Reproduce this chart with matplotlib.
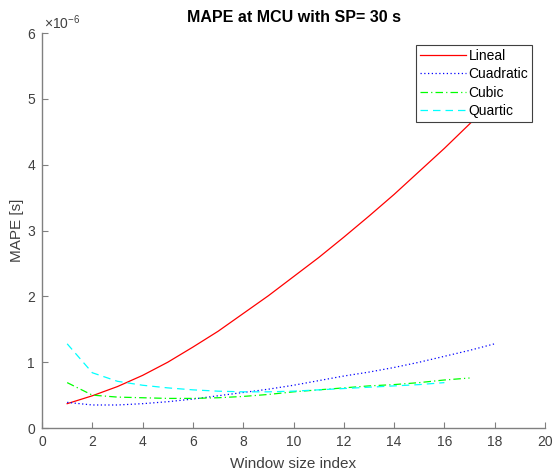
import numpy as np
import matplotlib.pyplot as plt

plt.rcParams['font.family'] = ['Liberation Sans', 'DejaVu Sans']
plt.rcParams['mathtext.default'] = 'regular'

# MAPE values (x 1e-6 s)
lineal_x = np.arange(1, 19)
lineal = [0.37, 0.49, 0.63, 0.80, 1.00, 1.23, 1.47, 1.74, 2.01, 2.30,
          2.59, 2.90, 3.22, 3.55, 3.90, 4.25, 4.62, 5.00]
cuad_x = np.arange(1, 19)
cuad = [0.39, 0.35, 0.35, 0.37, 0.40, 0.44, 0.49, 0.54, 0.59, 0.65,
        0.72, 0.79, 0.85, 0.92, 1.00, 1.09, 1.18, 1.28]
cubic_x = np.arange(1, 18)
cubic = [0.69, 0.50, 0.47, 0.46, 0.45, 0.45, 0.46, 0.48, 0.51, 0.55,
         0.58, 0.61, 0.64, 0.66, 0.69, 0.73, 0.76]
quart_x = np.arange(1, 17)
quart = [1.28, 0.84, 0.71, 0.65, 0.61, 0.58, 0.56, 0.55, 0.55, 0.56,
         0.58, 0.60, 0.62, 0.64, 0.66, 0.69]

axcol = '#404040'

fig = plt.figure(figsize=(5.55, 4.74), dpi=100)
ax = fig.add_axes([0.0757, 0.097, 0.9063, 0.833])

ax.plot(lineal_x, np.array(lineal) * 1e-6, color='#ff0000', lw=0.9, label='Lineal')
ax.plot(cuad_x, np.array(cuad) * 1e-6, color='#0000ff', lw=0.9, ls=(0, (1, 2)), label='Cuadratic')
ax.plot(cubic_x, np.array(cubic) * 1e-6, color='#00ff00', lw=0.9, ls=(0, (6, 2.5, 1, 2.5)), label='Cubic')
ax.plot(quart_x, np.array(quart) * 1e-6, color='#00ffff', lw=0.9, ls=(0, (6, 4)), label='Quartic')

ax.set_xlim(0, 20)
ax.set_ylim(0, 6e-6)
ax.set_xticks(np.arange(0, 21, 2))
ax.set_yticks(np.arange(0, 7) * 1e-6)
ax.set_yticklabels([str(i) for i in range(7)])
ax.text(0.003, 1.003, r'$\times10^{-6}$', transform=ax.transAxes, fontsize=10, color=axcol,
        ha='left', va='bottom')

for s in ['top', 'right']:
    ax.spines[s].set_visible(False)
for s in ['left', 'bottom']:
    ax.spines[s].set_color('#808080')
    ax.spines[s].set_linewidth(1.0)
ax.tick_params(direction='in', length=4, width=0.8, color='#808080', labelcolor=axcol,
               labelsize=10, pad=5)

ax.set_xlabel('Window size index', fontsize=11, color=axcol, labelpad=6)
ax.set_ylabel('MAPE [s]', fontsize=11, color=axcol, labelpad=2)
ax.set_title('MAPE at MCU with SP= 30 s', fontsize=11.5, fontweight='bold', pad=8)

leg = ax.legend(loc='upper right', bbox_to_anchor=(0.975, 0.97), fontsize=10, frameon=True,
                fancybox=False, framealpha=1, edgecolor='#404040', borderpad=0.3,
                labelspacing=0.3, handlelength=3.3, handletextpad=0.2, borderaxespad=0)
leg.get_frame().set_linewidth(0.8)

fig.savefig('out.png', dpi=100)
